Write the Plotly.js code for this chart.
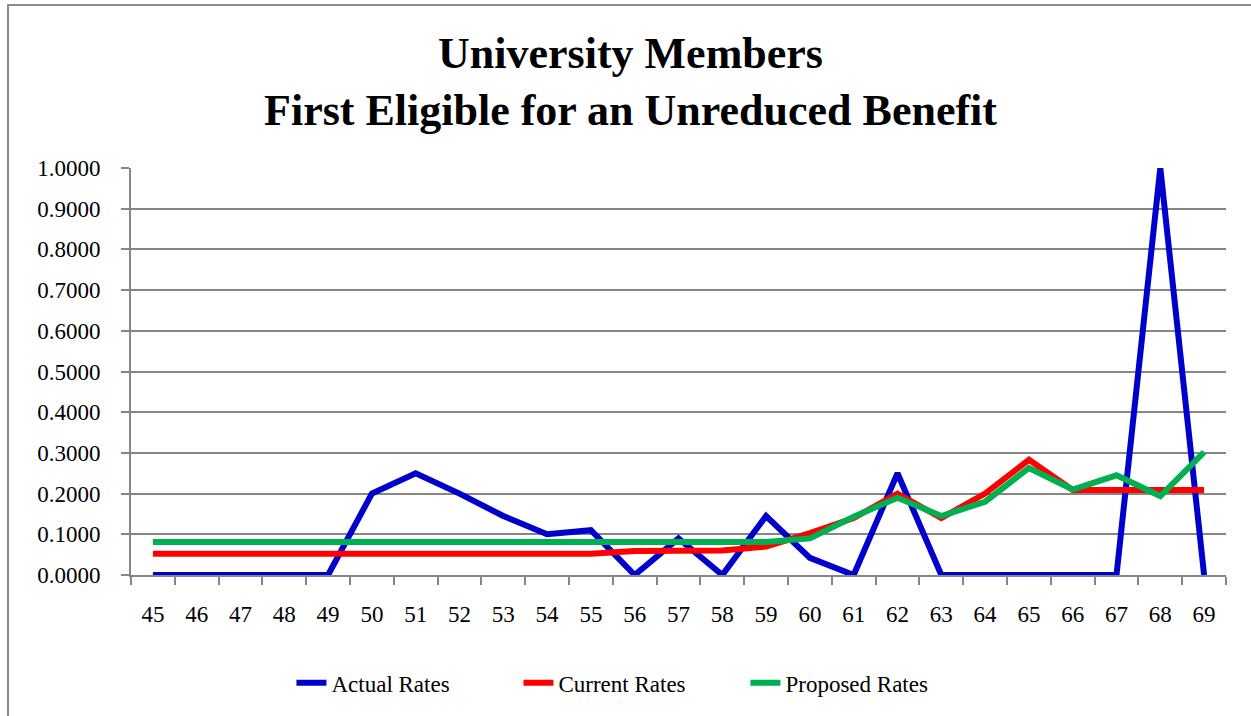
<!DOCTYPE html>
<html>
<head>
<meta charset="utf-8">
<script src="https://cdn.plot.ly/plotly-3.0.1.min.js"></script>
<style>
  html, body { margin: 0; padding: 0; background: #fff; overflow: hidden; }
  #chart { position: absolute; left: 0; top: 0; width: 1251px; height: 716px; }
  #frame { position: absolute; left: 7px; top: 4px; width: 1260px; height: 730px;
           border: 2px solid #8c8c8c; pointer-events: none; }
</style>
</head>
<body>
<div id="chart"></div>
<div id="frame"></div>
<script>
const ages = ["45","46","47","48","49","50","51","52","53","54","55","56","57","58","59","60","61","62","63","64","65","66","67","68","69"];
const actualRates   = [0,0,0,0,0,0.2000,0.2500,0.2000,0.1450,0.1000,0.1100,0,0.0900,0,0.1450,0.0420,0,0.2500,0,0,0,0,0,1.0000,0];
const currentRates  = [0.0520,0.0520,0.0520,0.0520,0.0520,0.0520,0.0520,0.0520,0.0520,0.0520,0.0520,0.0590,0.0600,0.0600,0.0700,0.1030,0.1400,0.2000,0.1400,0.2000,0.2830,0.2090,0.2090,0.2090,0.2090];
const proposedRates = [0.0810,0.0810,0.0810,0.0810,0.0810,0.0810,0.0810,0.0810,0.0810,0.0810,0.0810,0.0810,0.0810,0.0810,0.0810,0.0900,0.1430,0.1900,0.1450,0.1800,0.2630,0.2100,0.2450,0.1940,0.3020];
const seriesNames = ["Actual Rates","Current Rates","Proposed Rates"];
const titleText = "University Members<br>First Eligible for an Unreduced Benefit";

const font = "'Liberation Serif', 'Times New Roman', serif";
const mk = (y, name, color) => ({
  x: ages, y: y, name: name, type: "scatter", mode: "lines",
  line: {color: color, width: 6}, hoverinfo: "x+y"
});
const data = [
  mk(actualRates, seriesNames[0], "#0000cc"),
  mk(currentRates, seriesNames[1], "#ff0000"),
  mk(proposedRates, seriesNames[2], "#00b050")
];
const layout = {
  width: 1251, height: 716,
  margin: {l: 131, r: 25, t: 168, b: 141},
  paper_bgcolor: "#ffffff", plot_bgcolor: "#ffffff",
  font: {family: font, size: 23, color: "#000"},
  title: {text: titleText, x: 0.504, xanchor: "center", y: 0.905, yanchor: "middle",
          font: {family: font, size: 44, color: "#000", weight: "bold"}},
  xaxis: {type: "category", range: [-0.5, 24.5], tickson: "boundaries", ticks: "outside", ticklen: 8,
          tickwidth: 2, tickcolor: "#868686", showline: true, linecolor: "#868686",
          linewidth: 2, showgrid: false, zeroline: false, ticklabelstandoff: 17,
          tickfont: {family: font, size: 23}, fixedrange: true},
  yaxis: {range: [0, 1], dtick: 0.1, tick0: 0, tickformat: ".4f", ticks: "outside",
          ticklen: 8, tickwidth: 2, tickcolor: "#868686", showline: true,
          linecolor: "#868686", linewidth: 2, showgrid: true, gridcolor: "#868686",
          gridwidth: 2, zeroline: false, ticklabelstandoff: 16,
          tickfont: {family: font, size: 23}, fixedrange: true},
  showlegend: true,
  legend: {orientation: "h", x: 0.4575, xanchor: "center", y: -0.265, yanchor: "middle",
           font: {family: font, size: 23}, bgcolor: "rgba(0,0,0,0)",
           entrywidth: 182, entrywidthmode: "pixels", tracegroupgap: 0}
};
Plotly.newPlot("chart", data, layout, {displayModeBar: false, staticPlot: true});
</script>
</body>
</html>
